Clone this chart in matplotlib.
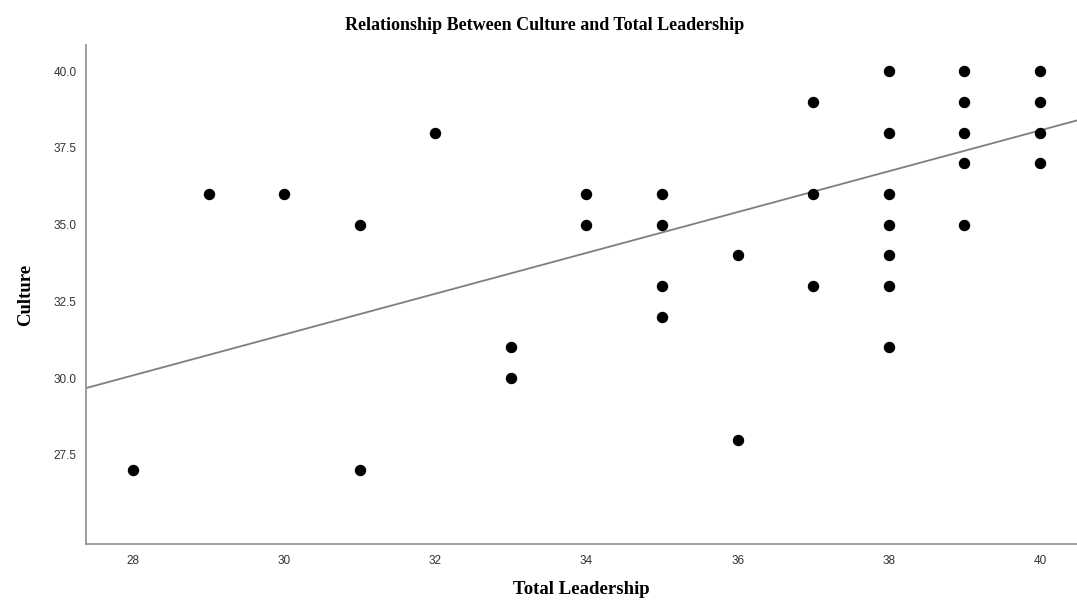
import numpy as np
import matplotlib.pyplot as plt

# Total Leadership (x) vs Culture (y)
leadership = [28, 29, 30, 31, 31, 32, 33, 33, 34, 34,
              35, 35, 35, 35, 36, 36, 37, 37, 37,
              38, 38, 38, 38, 38, 38, 38,
              39, 39, 39, 39, 39, 40, 40, 40, 40]
culture = [27, 36, 36, 35, 27, 38, 31, 30, 36, 35,
           36, 35, 33, 32, 34, 28, 39, 36, 33,
           40, 38, 36, 35, 34, 33, 31,
           40, 39, 38, 37, 35, 40, 39, 38, 37]
# fit line as shown (overlapping cases hidden in the dots)
fit_slope = 0.665
fit_intercept = 11.47
xticks = [28, 30, 32, 34, 36, 38, 40]
yticks = [27.5, 30.0, 32.5, 35.0, 37.5, 40.0]

fig = plt.figure(figsize=(10.77, 6.01), dpi=100)
ax = fig.add_axes([0.080, 0.095, 0.920, 0.830])

ax.scatter(leadership, culture, s=52, color='black', zorder=3)

xlim = (27.38, 40.49)
xs = np.array(xlim)
ax.plot(xs, fit_slope * xs + fit_intercept, color='#7f7f7f', lw=1.3, zorder=2)

ax.set_xlim(*xlim)
ax.set_ylim(24.6, 40.85)
ax.set_xticks(xticks)
ax.set_yticks(yticks)
ax.set_yticklabels([f'{v:.1f}' for v in yticks])
ax.tick_params(length=0, labelsize=8.5, colors='#333333')
ax.tick_params(axis='y', pad=7)
ax.tick_params(axis='x', pad=8)
for lbl in ax.get_xticklabels() + ax.get_yticklabels():
    lbl.set_family(['Liberation Sans Narrow', 'Liberation Sans'])

for s in ['top', 'right']:
    ax.spines[s].set_visible(False)
for s in ['left', 'bottom']:
    ax.spines[s].set_color('#8c8c8c')
    ax.spines[s].set_linewidth(1.2)

serif = {'family': 'Liberation Serif', 'weight': 'bold'}
fig.suptitle('Relationship Between Culture and Total Leadership', x=0.506, y=0.972,
             fontsize=13, **serif)
ax.set_xlabel('Total Leadership', fontsize=13.5, labelpad=10, **serif)
ax.set_ylabel('Culture', fontsize=13.5, labelpad=14, **serif)

fig.savefig('out.png', dpi=100)
